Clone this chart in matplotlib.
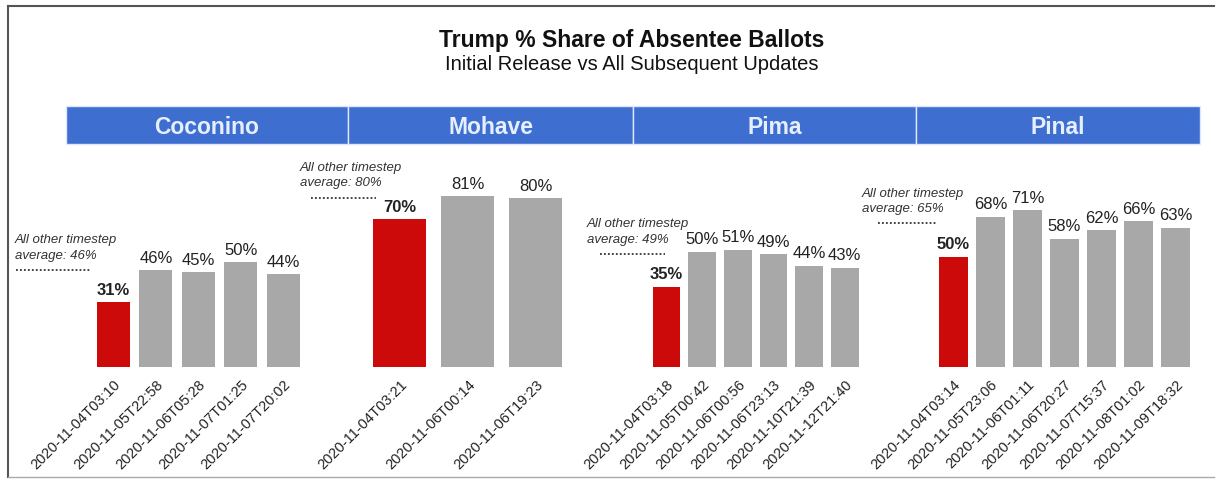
import matplotlib.pyplot as plt
from matplotlib.patches import Rectangle
from matplotlib.lines import Line2D
from matplotlib.transforms import blended_transform_factory

plt.rcParams['font.family'] = ['Liberation Sans', 'DejaVu Sans']

counties = ["Coconino", "Mohave", "Pima", "Pinal"]

coconino_times = ["2020-11-04T03:10", "2020-11-05T22:58", "2020-11-06T05:28",
                  "2020-11-07T01:25", "2020-11-07T20:02"]
coconino_share = [31, 46, 45, 50, 44]

mohave_times = ["2020-11-04T03:21", "2020-11-06T00:14", "2020-11-06T19:23"]
mohave_share = [70, 81, 80]

pima_times = ["2020-11-04T03:18", "2020-11-05T00:42", "2020-11-06T00:56",
              "2020-11-06T23:13", "2020-11-10T21:39", "2020-11-12T21:40"]
pima_share = [35, 50, 51, 49, 44, 43]

pinal_times = ["2020-11-04T03:14", "2020-11-05T23:06", "2020-11-06T01:11",
               "2020-11-06T20:27", "2020-11-07T15:37", "2020-11-08T01:02",
               "2020-11-09T18:32"]
pinal_share = [50, 68, 71, 58, 62, 66, 63]

other_avg = [46, 80, 49, 65]

all_times = [coconino_times, mohave_times, pima_times, pinal_times]
all_share = [coconino_share, mohave_share, pima_share, pinal_share]

# layout (pixels in a 1217x481 canvas)
W, H = 1217, 481
col_edges = [66, 348, 633, 916, 1200]
xlims = [(-1.12, 5.53), (-0.76, 3.43), (-0.94, 7.0), (-1.01, 6.66)]
ylims = [106, 105.7, 97, 101]
note_text_x = [15, 300, 587, 862]
note_line_x = [(16, 90), (311, 376), (600, 665), (878, 937)]
base_y, head_bot, head_top = 368, 145, 107

RED = "#cc0a0a"
GREY = "#a8a8a8"
BLUE = "#3e6fd0"

fig = plt.figure(figsize=(W / 100, H / 100), dpi=100)
fig.patch.set_facecolor("white")

# outer frame
fig.add_artist(Line2D([8 / W, 1 - 3 / W], [1 - 7 / H, 1 - 7 / H], transform=fig.transFigure,
                      color="#555555", lw=1.5))
fig.add_artist(Line2D([8 / W, 8 / W], [1 - 7 / H, 1 - 478 / H], transform=fig.transFigure,
                      color="#555555", lw=1.5))
fig.add_artist(Line2D([8 / W, 1 - 3 / W], [1 - 478 / H, 1 - 478 / H], transform=fig.transFigure,
                      color="#aaaaaa", lw=1.0))

fig.text(632 / W, 1 - 40 / H, "Trump % Share of Absentee Ballots", ha="center", va="center",
         fontsize=16.5, fontweight="bold", color="#111111")
fig.text(632 / W, 1 - 64 / H, "Initial Release vs All Subsequent Updates", ha="center",
         va="center", fontsize=14.5, color="#111111")

for i, name in enumerate(counties):
    x0, x1 = col_edges[i], col_edges[i + 1]
    fig.add_artist(Rectangle((x0 / W, 1 - head_bot / H), (x1 - x0) / W, (head_bot - head_top) / H,
                             transform=fig.transFigure, facecolor=BLUE, edgecolor="#dfe8fb", lw=1))
    fig.text((x0 + x1) / 2 / W, 1 - 127 / H, name, ha="center", va="center", fontsize=16.5,
             fontweight="bold", color="#e6efff")

    ax = fig.add_axes([x0 / W, 1 - base_y / H, (x1 - x0) / W, (base_y - head_bot) / H])
    ax.patch.set_alpha(0)
    times, share = all_times[i], all_share[i]
    idx = list(range(len(share)))
    colors = [RED] + [GREY] * (len(share) - 1)
    ax.bar(idx, share, width=0.78, color=colors)
    for j, v in enumerate(share):
        ax.text(j, v + 2.5, f"{v}%", ha="center", va="bottom", fontsize=12,
                fontweight="bold" if j == 0 else "normal", color="#222222")
    ax.set_xlim(*xlims[i])
    ax.set_ylim(0, ylims[i])
    ax.set_xticks(idx)
    ax.set_xticklabels(times, rotation=45, ha="right", rotation_mode="anchor", fontsize=10.5,
                       color="#222222")
    ax.tick_params(axis="x", length=0, pad=7)
    ax.set_yticks([])
    for s in ax.spines.values():
        s.set_visible(False)

    tr = blended_transform_factory(fig.transFigure, ax.transData)
    lx0, lx1 = note_line_x[i]
    ax.add_line(Line2D([lx0 / W, lx1 / W], [other_avg[i], other_avg[i]], transform=tr,
                       color="#333333", lw=1.3, linestyle=(0, (1, 1.2)), clip_on=False))
    ax.annotate(f"All other timestep\naverage: {other_avg[i]}%",
                xy=(note_text_x[i] / W, other_avg[i]), xycoords=tr,
                xytext=(0, 7), textcoords="offset points", ha="left", va="bottom",
                fontsize=9.5, fontstyle="italic", color="#333333", linespacing=1.35,
                annotation_clip=False)

fig.savefig("out.png", dpi=100)
